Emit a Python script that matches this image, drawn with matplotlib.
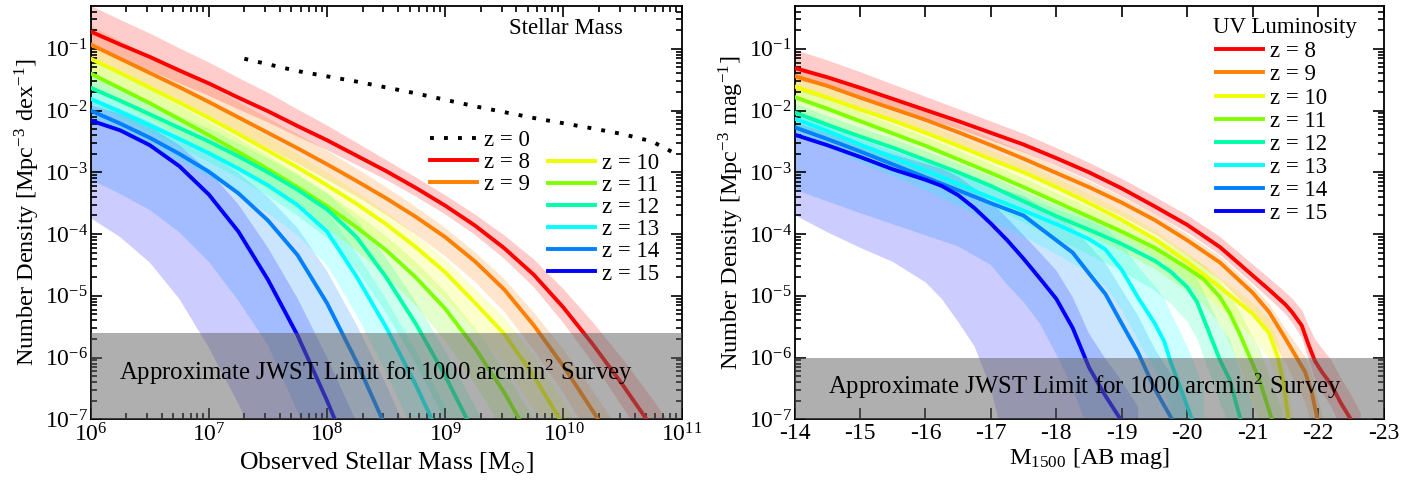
import numpy as np
import matplotlib
matplotlib.use("Agg")
import matplotlib.pyplot as plt
from matplotlib.ticker import FixedLocator, FuncFormatter, NullFormatter

plt.rcParams['font.family'] = ['Liberation Serif', 'DejaVu Serif']
plt.rcParams['mathtext.fontset'] = 'stix'
plt.rcParams['axes.unicode_minus'] = False

redshifts = [8, 9, 10, 11, 12, 13, 14, 15]
colors = {8: '#ff0000', 9: '#ff8000', 10: '#eeff00', 11: '#80ff00',
          12: '#00ffa8', 13: '#00ffff', 14: '#0080ff', 15: '#0000ff'}

# ---- stellar mass function: log10(M) -> log10(n); band offsets (dex) above / below ----
sm_x = {
    8: [6.0, 6.25, 6.5, 6.75, 7.0, 7.25, 7.5, 7.75, 8.0, 8.25, 8.5, 8.75, 9.0, 9.25, 9.5, 9.75, 10.0, 10.25, 10.5, 10.75, 11.0],
    9: [6.0, 6.25, 6.5, 6.75, 7.0, 7.25, 7.5, 7.75, 8.0, 8.25, 8.5, 8.75, 9.0, 9.25, 9.5, 9.75, 10.0, 10.25, 10.5, 10.75],
    10: [6.0, 6.25, 6.5, 6.75, 7.0, 7.25, 7.5, 7.75, 8.0, 8.25, 8.5, 8.75, 9.0, 9.25, 9.5, 9.75, 10.0, 10.25],
    11: [6.0, 6.25, 6.5, 6.75, 7.0, 7.25, 7.5, 7.75, 8.0, 8.25, 8.5, 8.75, 9.0, 9.25, 9.5, 9.75, 10.0],
    12: [6.0, 6.25, 6.5, 6.75, 7.0, 7.25, 7.5, 7.75, 8.0, 8.25, 8.5, 8.75, 9.0, 9.25, 9.5],
    13: [6.0, 6.25, 6.5, 6.75, 7.0, 7.25, 7.5, 7.75, 8.0, 8.25, 8.5, 8.75, 9.0],
    14: [6.0, 6.25, 6.5, 6.75, 7.0, 7.25, 7.5, 7.75, 8.0, 8.25, 8.5, 8.75],
    15: [6.0, 6.25, 6.5, 6.75, 7.0, 7.25, 7.5, 7.75, 8.0, 8.25],
}
sm_y = {
    8: [-0.72, -0.93, -1.13, -1.35, -1.56, -1.79, -2.01, -2.25, -2.48, -2.73, -2.98, -3.25, -3.54, -3.86, -4.23, -4.66, -5.19, -5.79, -6.44, -7.13, -7.85],
    9: [-0.93, -1.16, -1.39, -1.62, -1.86, -2.11, -2.36, -2.61, -2.87, -3.14, -3.42, -3.72, -4.05, -4.44, -4.90, -5.48, -6.14, -6.87, -7.64, -8.46],
    10: [-1.16, -1.39, -1.63, -1.87, -2.12, -2.38, -2.65, -2.92, -3.21, -3.51, -3.84, -4.21, -4.62, -5.11, -5.62, -6.30, -7.10, -7.98],
    11: [-1.40, -1.64, -1.88, -2.14, -2.40, -2.67, -2.95, -3.24, -3.55, -3.89, -4.26, -4.70, -5.21, -5.84, -6.57, -7.42, -8.35],
    12: [-1.63, -1.84, -2.06, -2.28, -2.50, -2.74, -3.00, -3.28, -3.60, -4.05, -4.70, -5.45, -6.30, -7.25, -8.20],
    13: [-1.81, -2.02, -2.24, -2.46, -2.69, -2.94, -3.21, -3.53, -3.96, -4.69, -5.51, -6.44, -7.46],
    14: [-2.00, -2.21, -2.44, -2.70, -2.99, -3.34, -3.78, -4.34, -5.12, -6.07, -7.14, -8.30],
    15: [-2.16, -2.32, -2.56, -2.90, -3.36, -3.96, -4.74, -5.64, -6.70, -7.85],
}
sm_up = {
    8: [0.42, 0.40, 0.38, 0.36, 0.34, 0.32, 0.30, 0.27, 0.24, 0.21, 0.18, 0.17, 0.17, 0.18, 0.21, 0.25, 0.30, 0.36, 0.42, 0.47, 0.50],
    9: [0.30, 0.29, 0.28, 0.27, 0.26, 0.25, 0.24, 0.23, 0.22, 0.20, 0.18, 0.16, 0.15, 0.15, 0.17, 0.21, 0.27, 0.33, 0.38, 0.42],
    10: [0.25, 0.25, 0.25, 0.25, 0.25, 0.24, 0.23, 0.22, 0.21, 0.20, 0.20, 0.20, 0.21, 0.23, 0.27, 0.32, 0.38, 0.44],
    11: [0.22, 0.22, 0.22, 0.22, 0.22, 0.22, 0.22, 0.22, 0.22, 0.22, 0.23, 0.25, 0.28, 0.32, 0.37, 0.42, 0.46],
    12: [0.20, 0.20, 0.20, 0.20, 0.21, 0.22, 0.23, 0.24, 0.26, 0.28, 0.31, 0.35, 0.40, 0.46, 0.52],
    13: [0.18, 0.19, 0.20, 0.21, 0.22, 0.24, 0.26, 0.28, 0.32, 0.38, 0.45, 0.55, 0.65],
    14: [0.22, 0.24, 0.26, 0.28, 0.30, 0.33, 0.38, 0.44, 0.52, 0.60, 0.70, 0.80],
    15: [0.25, 0.27, 0.30, 0.34, 0.38, 0.44, 0.52, 0.60, 0.70, 0.80],
}
sm_dn = {
    8: [0.25, 0.24, 0.22, 0.21, 0.20, 0.19, 0.18, 0.17, 0.16, 0.15, 0.14, 0.14, 0.14, 0.15, 0.17, 0.20, 0.25, 0.30, 0.36, 0.42, 0.48],
    9: [0.25, 0.25, 0.25, 0.25, 0.25, 0.25, 0.25, 0.25, 0.25, 0.25, 0.27, 0.29, 0.31, 0.33, 0.36, 0.40, 0.44, 0.48, 0.52, 0.56],
    10: [0.25, 0.25, 0.25, 0.26, 0.27, 0.28, 0.29, 0.30, 0.32, 0.33, 0.35, 0.38, 0.42, 0.46, 0.50, 0.55, 0.60, 0.65],
    11: [0.25, 0.25, 0.26, 0.27, 0.28, 0.30, 0.32, 0.34, 0.36, 0.38, 0.42, 0.46, 0.52, 0.58, 0.65, 0.72, 0.78],
    12: [0.25, 0.27, 0.29, 0.31, 0.33, 0.35, 0.38, 0.42, 0.46, 0.52, 0.58, 0.65, 0.73, 0.81, 0.88],
    13: [0.30, 0.31, 0.33, 0.35, 0.38, 0.41, 0.45, 0.49, 0.55, 0.63, 0.74, 0.86, 0.98],
    14: [1.12, 1.14, 1.17, 1.27, 1.46, 1.74, 2.02, 2.54, 2.88, 3.00, 3.10, 3.20],
    15: [1.58, 1.73, 1.90, 2.15, 2.48, 2.79, 3.06, 3.20, 3.30, 3.40],
}
z0_x = [7.3, 7.75, 8.25, 8.75, 9.25, 9.75, 10.25, 10.5, 10.75, 10.95]
z0_y = [-1.16, -1.36, -1.53, -1.72, -1.93, -2.12, -2.29, -2.38, -2.50, -2.70]
sm_limit = 2.5e-6

# ---- UV luminosity function: M1500 -> log10(n); band offsets (dex) ----
uv_x = {
    8: [-14, -14.5, -15, -15.5, -16, -16.5, -17, -17.5, -18, -18.5, -19, -19.5, -20, -20.5, -21, -21.25, -21.5, -21.6, -21.75, -21.85, -21.95, -22.05, -22.2, -22.35, -22.5, -22.65],
    9: [-14, -14.5, -15, -15.5, -16, -16.5, -17, -17.5, -18, -18.5, -19, -19.5, -20, -20.5, -21, -21.25, -21.5, -21.65, -21.8, -21.9, -22.0, -22.1],
    10: [-14, -14.5, -15, -15.5, -16, -16.5, -17, -17.5, -18, -18.5, -19, -19.5, -20, -20.5, -21, -21.25, -21.38, -21.48, -21.55, -21.65],
    11: [-14, -14.5, -15, -15.5, -16, -16.5, -17, -17.5, -18, -18.5, -19, -19.5, -20, -20.25, -20.5, -20.65, -20.8, -20.95, -21.1, -21.3, -21.45],
    12: [-14, -14.5, -15, -15.5, -16, -16.5, -17, -17.5, -18, -18.5, -19, -19.5, -19.75, -20.0, -20.15, -20.3, -20.5, -20.65, -20.82, -21.0],
    13: [-14, -14.5, -15, -15.5, -16, -16.5, -17, -17.5, -18, -18.5, -18.75, -19.0, -19.25, -19.5, -19.65, -19.75, -19.9, -20.08, -20.25],
    14: [-14, -14.5, -15, -15.5, -16, -16.5, -17, -17.25, -17.5, -17.75, -18.0, -18.25, -18.5, -18.75, -19.0, -19.25, -19.5, -19.78, -20.0],
    15: [-14, -14.5, -15, -15.5, -16, -16.25, -16.5, -16.75, -17.0, -17.25, -17.5, -17.75, -18.0, -18.25, -18.5, -18.75, -19.0, -19.25],
}
uv_y = {
    8: [-1.31, -1.46, -1.63, -1.81, -1.99, -2.17, -2.36, -2.55, -2.77, -3.00, -3.26, -3.55, -3.85, -4.21, -4.67, -4.90, -5.14, -5.26, -5.48, -5.78, -6.05, -6.22, -6.44, -6.74, -7.00, -7.30],
    9: [-1.44, -1.60, -1.79, -1.97, -2.15, -2.35, -2.56, -2.78, -3.01, -3.24, -3.49, -3.77, -4.10, -4.46, -4.95, -5.26, -5.69, -5.96, -6.23, -6.55, -7.05, -7.50],
    10: [-1.61, -1.79, -1.98, -2.16, -2.36, -2.57, -2.79, -3.00, -3.24, -3.50, -3.77, -4.08, -4.45, -4.86, -5.29, -5.60, -5.98, -6.46, -7.02, -7.60],
    11: [-1.78, -1.97, -2.17, -2.37, -2.57, -2.79, -3.01, -3.24, -3.48, -3.72, -3.96, -4.22, -4.55, -4.73, -5.02, -5.28, -5.61, -5.98, -6.35, -7.02, -7.50],
    12: [-2.03, -2.23, -2.42, -2.60, -2.80, -3.00, -3.22, -3.47, -3.71, -3.93, -4.16, -4.43, -4.61, -4.86, -5.10, -5.50, -6.04, -6.36, -7.02, -7.60],
    13: [-2.13, -2.33, -2.55, -2.76, -2.97, -3.19, -3.41, -3.62, -3.84, -4.08, -4.25, -4.58, -5.03, -5.44, -5.74, -6.08, -6.50, -7.02, -7.50],
    14: [-2.27, -2.46, -2.66, -2.87, -3.08, -3.29, -3.50, -3.60, -3.70, -3.90, -4.10, -4.30, -4.64, -4.97, -5.45, -5.92, -6.50, -7.02, -7.50],
    15: [-2.39, -2.56, -2.75, -2.95, -3.12, -3.22, -3.37, -3.58, -3.83, -4.10, -4.40, -4.72, -5.05, -5.52, -6.16, -6.62, -7.03, -7.50],
}
uv_up = {
    8: [0.30, 0.28, 0.26, 0.24, 0.22, 0.20, 0.19, 0.18, 0.17, 0.16, 0.16, 0.16, 0.16, 0.17, 0.18, 0.19, 0.20, 0.22, 0.25, 0.30, 0.35, 0.38, 0.40, 0.40, 0.40, 0.40],
    9: [0.18, 0.17, 0.16, 0.15, 0.14, 0.13, 0.12, 0.12, 0.11, 0.10, 0.10, 0.10, 0.10, 0.10, 0.11, 0.13, 0.16, 0.20, 0.25, 0.30, 0.35, 0.40],
    10: [0.15, 0.15, 0.15, 0.15, 0.15, 0.15, 0.15, 0.15, 0.15, 0.15, 0.15, 0.15, 0.15, 0.16, 0.18, 0.22, 0.28, 0.35, 0.42, 0.48],
    11: [0.15, 0.15, 0.15, 0.15, 0.15, 0.15, 0.15, 0.15, 0.15, 0.16, 0.17, 0.19, 0.21, 0.23, 0.26, 0.30, 0.35, 0.42, 0.50, 0.58, 0.65],
    12: [0.15, 0.15, 0.15, 0.15, 0.15, 0.15, 0.16, 0.17, 0.18, 0.20, 0.22, 0.25, 0.28, 0.32, 0.38, 0.45, 0.55, 0.65, 0.75, 0.85],
    13: [0.15, 0.15, 0.15, 0.16, 0.17, 0.18, 0.20, 0.22, 0.25, 0.30, 0.35, 0.42, 0.50, 0.60, 0.70, 0.80, 0.90, 1.00, 1.00],
    14: [0.20, 0.20, 0.20, 0.22, 0.24, 0.26, 0.28, 0.30, 0.32, 0.35, 0.38, 0.42, 0.46, 0.50, 0.55, 0.60, 0.65, 0.70, 0.75],
    15: [0.20, 0.20, 0.22, 0.24, 0.26, 0.28, 0.30, 0.32, 0.34, 0.36, 0.38, 0.42, 0.46, 0.50, 0.55, 0.60, 0.65, 0.70],
}
uv_dn = {
    8: [0.18, 0.16, 0.15, 0.14, 0.13, 0.12, 0.12, 0.12, 0.12, 0.12, 0.12, 0.12, 0.12, 0.12, 0.13, 0.14, 0.15, 0.17, 0.20, 0.25, 0.30, 0.33, 0.36, 0.40, 0.42, 0.45],
    9: [0.22, 0.22, 0.22, 0.22, 0.22, 0.22, 0.22, 0.22, 0.22, 0.22, 0.22, 0.23, 0.25, 0.28, 0.32, 0.36, 0.40, 0.45, 0.50, 0.55, 0.60, 0.65],
    10: [0.22, 0.22, 0.22, 0.22, 0.22, 0.22, 0.22, 0.22, 0.22, 0.23, 0.25, 0.27, 0.30, 0.33, 0.38, 0.42, 0.48, 0.54, 0.60, 0.65],
    11: [0.22, 0.22, 0.22, 0.22, 0.22, 0.22, 0.23, 0.25, 0.27, 0.29, 0.31, 0.34, 0.38, 0.41, 0.45, 0.50, 0.55, 0.62, 0.70, 0.78, 0.85],
    12: [0.22, 0.22, 0.24, 0.26, 0.28, 0.30, 0.32, 0.34, 0.36, 0.40, 0.44, 0.48, 0.52, 0.56, 0.60, 0.65, 0.70, 0.75, 0.80, 0.85],
    13: [0.25, 0.26, 0.28, 0.30, 0.32, 0.35, 0.38, 0.42, 0.48, 0.55, 0.60, 0.65, 0.70, 0.75, 0.80, 0.85, 0.90, 0.95, 1.00],
    14: [1.01, 1.01, 1.00, 0.97, 0.94, 0.91, 1.00, 1.22, 1.40, 1.55, 1.85, 2.20, 2.56, 2.90, 3.00, 3.10, 3.20, 3.30, 3.40],
    15: [1.30, 1.41, 1.47, 1.50, 1.66, 1.83, 2.05, 2.24, 2.67, 3.50, 3.80, 4.00, 4.00, 4.00, 4.00, 4.00, 4.00, 4.00],
}
uv_limit = 1e-6

y_decades = [-7, -6, -5, -4, -3, -2, -1]
mass_decades = [6, 7, 8, 9, 10, 11]
mag_ticks = [-14, -15, -16, -17, -18, -19, -20, -21, -22, -23]

FS = 16.5


def log_fmt(v, pos):
    return r'$\mathregular{10^{%d}}$' % int(round(np.log10(v)))


def minor_log(decades, top):
    vals = [m * 10.0 ** d for d in decades for m in range(2, 10)]
    return [v for v in vals if v < top]


def style_axis(ax):
    ax.set_yscale('log')
    ax.set_ylim(1e-7, 0.5)
    ax.yaxis.set_major_locator(FixedLocator([10.0 ** d for d in y_decades]))
    ax.yaxis.set_minor_locator(FixedLocator(minor_log(y_decades, 0.5)))
    ax.yaxis.set_major_formatter(FuncFormatter(log_fmt))
    ax.yaxis.set_minor_formatter(NullFormatter())
    ax.tick_params(which='both', direction='in', top=True, right=True, width=1.2, labelsize=17)
    ax.tick_params(which='major', length=8)
    ax.tick_params(which='minor', length=4)
    ax.tick_params(axis='y', which='major', pad=2)
    ax.tick_params(axis='x', which='major', pad=3)
    for s in ax.spines.values():
        s.set_linewidth(1.3)


def draw_panel(ax, xs, ys, ups, dns, xconv):
    # shaded ranges first, then the median lines on top
    for z in redshifts[::-1]:
        x = xconv(np.array(xs[z], dtype=float))
        y = np.array(ys[z])
        ax.fill_between(x, 10 ** (y + np.array(ups[z])), 10 ** (y - np.array(dns[z])),
                        color=colors[z], alpha=0.2, lw=0, zorder=1)
    lines = {}
    for z in redshifts:
        x = xconv(np.array(xs[z], dtype=float))
        lines[z], = ax.plot(x, 10 ** np.array(ys[z]), color=colors[z], lw=2.8,
                            zorder=3, solid_joinstyle='round', label='z = %d' % z)
    return lines


fig = plt.figure(figsize=(14.26, 4.88), dpi=100)
ax1 = fig.add_axes([0.0636, 0.1408, 0.4144, 0.8475])
ax2 = fig.add_axes([0.5572, 0.1408, 0.4130, 0.8475])

kw = dict(loc='upper left', frameon=False, fontsize=FS, handlelength=2.05,
          handletextpad=0.3, labelspacing=0.05, borderpad=0, borderaxespad=0)
gray = (0.38, 0.38, 0.38)
limit_text = r'Approximate JWST Limit for 1000 arcmin$^{\mathregular{2}}$ Survey'

# left: stellar mass
style_axis(ax1)
ax1.set_xscale('log')
ax1.set_xlim(1e6, 1e11)
ax1.xaxis.set_major_locator(FixedLocator([10.0 ** d for d in mass_decades]))
ax1.xaxis.set_minor_locator(FixedLocator(minor_log(mass_decades[:-1], 1e11)))
ax1.xaxis.set_major_formatter(FuncFormatter(log_fmt))
ax1.xaxis.set_minor_formatter(NullFormatter())

l1 = draw_panel(ax1, sm_x, sm_y, sm_up, sm_dn, lambda a: 10 ** a)
h0, = ax1.plot(10 ** np.array(z0_x), 10 ** np.array(z0_y), color='black', lw=2.8,
               ls=(0, (1, 2.6)), zorder=3, label='z = 0')
ax1.axhspan(1e-8, sm_limit, color=gray, alpha=0.5, lw=0, zorder=4)
ax1.text(10 ** 8.41, 10 ** -6.23, limit_text, ha='center', va='center', fontsize=17.8, zorder=5)
ax1.text(0.804, 0.946, 'Stellar Mass', transform=ax1.transAxes, ha='center', va='center',
         fontsize=FS, zorder=5)
ax1.set_xlabel(r'Observed Stellar Mass [M$_{\odot}$]', fontsize=18.5, labelpad=3)
ax1.set_ylabel(r'Number Density [Mpc$^{\mathregular{-3}}$ dex$^{\mathregular{-1}}$]', fontsize=17.5, labelpad=2)

leg1 = ax1.legend([h0, l1[8], l1[9]], ['z = 0', 'z = 8', 'z = 9'],
                  bbox_to_anchor=(0.574, 0.70), **kw)
ax1.add_artist(leg1)
ax1.legend([l1[z] for z in redshifts[2:]], ['z = %d' % z for z in redshifts[2:]],
           bbox_to_anchor=(0.774, 0.645), **kw)

# right: UV luminosity
style_axis(ax2)
ax2.set_xlim(-14, -23)
ax2.xaxis.set_major_locator(FixedLocator(mag_ticks))
ax2.xaxis.set_major_formatter(FuncFormatter(lambda v, p: '%d' % round(v)))
l2 = draw_panel(ax2, uv_x, uv_y, uv_up, uv_dn, lambda a: a)
ax2.axhspan(1e-8, uv_limit, color=gray, alpha=0.5, lw=0, zorder=4)
ax2.text(-18.43, 10 ** -6.47, limit_text, ha='center', va='center', fontsize=17.8, zorder=5)
ax2.text(0.833, 0.947, 'UV Luminosity', transform=ax2.transAxes, ha='center', va='center',
         fontsize=FS, zorder=5)
ax2.set_xlabel(r'M$_{\mathregular{1500}}$ [AB mag]', fontsize=17.5, labelpad=1)
ax2.set_ylabel(r'Number Density [Mpc$^{\mathregular{-3}}$ mag$^{\mathregular{-1}}$]', fontsize=17.5, labelpad=2)
kw2 = dict(kw, labelspacing=0.09)
ax2.legend([l2[z] for z in redshifts], ['z = %d' % z for z in redshifts],
           bbox_to_anchor=(0.715, 0.914), **kw2)

fig.savefig('out.png', dpi=100)
